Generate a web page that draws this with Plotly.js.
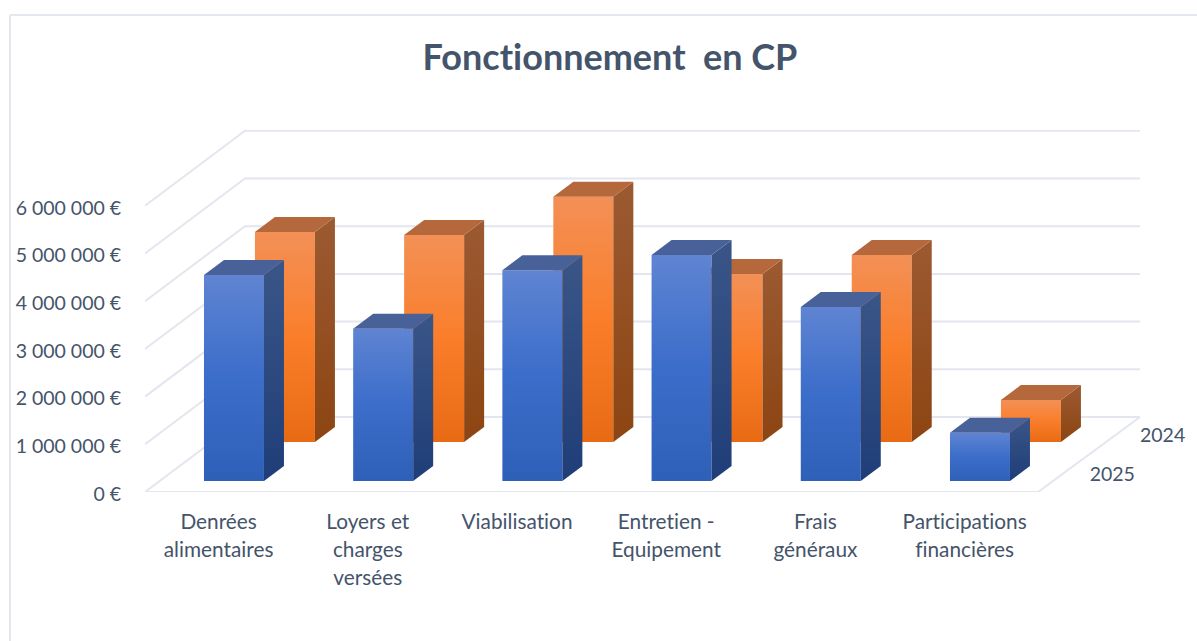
<!DOCTYPE html>
<html><head><meta charset="utf-8">
<script src="https://cdn.plot.ly/plotly-3.0.1.min.js"></script>
<style>html,body{margin:0;padding:0;background:#fff}#c{width:1197px;height:641px}
svg text{font-variant-ligatures:none;font-feature-settings:"liga" 0}</style>
</head><body><div id="c"></div>
<script>
const categories = ["Denrées<br>alimentaires","Loyers et<br>charges<br>versées","Viabilisation","Entretien -<br>Equipement","Frais<br>généraux","Participations<br>financières"];
const values2025 = [4320000,3190000,4420000,4740000,3650000,1010000];
const values2024 = [4400000,4340000,5140000,3520000,3920000,880000];
const yTicks = [0,1000000,2000000,3000000,4000000,5000000,6000000];
const yTickLabels = ["0 €","1 000 000 €","2 000 000 €","3 000 000 €","4 000 000 €","5 000 000 €","6 000 000 €"];
const depthLabels = ["2025","2024"];

// geometry of the oblique projection, in pixels
const W=1197,H=641,L=145,R=1140,T=130,B=492;
const catPx=149.2, valPx=47.7/1e6;
const depthX=100, depthY=75, barDepthX=98;
const barW=60, barDX=20, barDY=15;
const dBlue=11/75, dOrange=50/75;
const ux=p=>p/catPx, uy=p=>p/valPx;
const xMax=ux(R-L), yMax=uy(B-T);
const text='#44546a', grid='#e4e6ef';
const font='Lato, "Open Sans", sans-serif';
const xFont=20.8;

function lineTrace(xs,ys){return {type:'scatter',mode:'lines',x:xs,y:ys,line:{color:grid,width:2},cliponaxis:false,hoverinfo:'skip',showlegend:false,xaxis:'x',yaxis:'y'};}
const traces=[];
yTicks.forEach(v=>{
  traces.push(lineTrace([0,ux(depthX),xMax],[v,v+uy(depthY),v+uy(depthY)]));
});
traces.push(lineTrace([0,xMax-ux(102),xMax],[0,0,uy(depthY)]));
const labelDepth=[dBlue,dOrange];
traces.push({type:'scatter',mode:'text',x:depthLabels.map((_,i)=>Math.min(xMax,xMax-ux(102)+ux(depthX*labelDepth[i]+37))),
  y:depthLabels.map((_,i)=>uy(depthY*labelDepth[i]+5)),text:depthLabels,textposition:'middle right',
  textfont:{family:font,size:19.5,color:text},cliponaxis:false,hoverinfo:'skip',showlegend:false,xaxis:'x',yaxis:'y'});

function series(vals,d,ax,c){
  const xc=vals.map((_,i)=>i+0.5+ux(barDepthX*d));
  const base=uy(depthY*d);
  traces.push({type:'bar',x:xc,y:vals,base:vals.map(()=>base),width:ux(barW),marker:{color:c.front[1],line:{width:0}},
    cliponaxis:false,hoverinfo:'skip',showlegend:false,xaxis:'x'+ax,yaxis:'y'+ax});
  vals.forEach((v,i)=>{
    const x1=xc[i]+ux(barW/2), xb=x1+ux(barDX), yb=uy(barDY), top=base+v;
    traces.push({type:'scatter',mode:'none',fill:'toself',x:[x1,xb,xb,x1,x1],y:[base,base+yb,top+yb,top,base],
      fillcolor:c.side[0],fillgradient:{type:'vertical',colorscale:[[0,c.side[0]],[1,c.side[1]]]},
      cliponaxis:false,hoverinfo:'skip',showlegend:false,xaxis:'x'+ax,yaxis:'y'+ax});
    const x0=xc[i]-ux(barW/2);
    traces.push({type:'scatter',mode:'none',fill:'toself',x:[x0,x1,xb,x0+ux(barDX),x0],y:[top,top,top+yb,top+yb,top],
      fillcolor:c.top,cliponaxis:false,hoverinfo:'skip',showlegend:false,xaxis:'x'+ax,yaxis:'y'+ax});
  });
}
const orange={front:['#f39056','#fa7e2a','#e86a14'],side:['#8c4512','#9c5a32'],top:'#b5683c'};
const blue={front:['#5f84d2','#3b6dca','#2f60b8'],side:['#1f3d78','#3a5688'],top:'#486299'};
series(values2024,dOrange,'2',orange);
series(values2025,dBlue,'3',blue);

const hidden=(o)=>Object.assign({range:[0,xMax],visible:false,fixedrange:true},o);
const px=v=>(v-L)/(R-L), py=v=>(B-v)/(B-T);
const layout={
  width:W,height:H,margin:{l:L,r:W-R,t:T,b:H-B},paper_bgcolor:'#fff',plot_bgcolor:'rgba(0,0,0,0)',
  barmode:'overlay',showlegend:false,hovermode:false,
  title:{text:'Fonctionnement  en CP',x:610/W,xref:'container',xanchor:'center',y:1-57/H,yref:'container',yanchor:'middle',
    font:{family:font,size:36,color:text,weight:700}},
  xaxis:{range:[0,xMax],tickmode:'array',tickvals:categories.map((_,i)=>i+0.5-ux(1)),ticktext:categories,tickangle:0,
    ticks:'outside',ticklen:11,tickcolor:'rgba(0,0,0,0)',showgrid:false,zeroline:false,showline:false,fixedrange:true,
    tickfont:{family:font,size:xFont,color:text}},
  yaxis:{range:[0,yMax],tickmode:'array',tickvals:yTicks,ticktext:yTickLabels,
    ticks:'outside',ticklen:19,tickcolor:'rgba(0,0,0,0)',showgrid:false,zeroline:false,showline:false,fixedrange:true,
    tickfont:{family:font,size:19.5,color:text}},
  xaxis2:hidden({overlaying:'x',anchor:'y2'}),
  yaxis2:{range:[0,yMax],visible:false,fixedrange:true,overlaying:'y',anchor:'x2'},
  xaxis3:hidden({overlaying:'x',anchor:'y3'}),
  yaxis3:{range:[0,yMax],visible:false,fixedrange:true,overlaying:'y',anchor:'x3'},
  shapes:[
    {type:'line',xref:'paper',yref:'paper',x0:px(10),x1:px(10),y0:py(15),y1:py(H),line:{color:'#e3e7ee',width:2}},
    {type:'line',xref:'paper',yref:'paper',x0:px(10),x1:px(W),y0:py(15),y1:py(15),line:{color:'#e3e7ee',width:2}}
  ]
};
const gd=document.getElementById('c');
Plotly.newPlot(gd,traces,layout,{displayModeBar:false,staticPlot:true}).then(()=>{
  const svg=gd.querySelector('.main-svg');
  const NS='http://www.w3.org/2000/svg';
  const defs=svg.querySelector('defs')||svg.insertBefore(document.createElementNS(NS,'defs'),svg.firstChild);
  function grad(id,st){
    const g=document.createElementNS(NS,'linearGradient');
    g.setAttribute('id',id);g.setAttribute('x1','0');g.setAttribute('y1','0');g.setAttribute('x2','0');g.setAttribute('y2','1');
    st.forEach((c,i)=>{const s=document.createElementNS(NS,'stop');s.setAttribute('offset',i/(st.length-1));s.setAttribute('stop-color',c);g.appendChild(s);});
    defs.appendChild(g);
  }
  grad('gradOrange',orange.front);grad('gradBlue',blue.front);
  const bars=gd.querySelectorAll('.barlayer .trace.bars');
  const paint=(tr,id)=>tr.querySelectorAll('.point path').forEach(p=>{p.style.fill='url(#'+id+')';});
  const ordered=[];
  bars.forEach(b=>ordered.push(b));
  if(ordered[0])paint(ordered[0],'gradOrange');
  if(ordered[1])paint(ordered[1],'gradBlue');
  gd.querySelectorAll('.xtick text tspan.line').forEach(t=>{
    const dy=t.getAttribute('dy');
    if(dy&&parseFloat(dy)>0){t.setAttribute('dy',(parseFloat(dy)/1.3*28/xFont)+'em');}
  });
  gd.querySelectorAll('.yaxislayer-above').forEach(g=>g.setAttribute('transform','translate(0,2)'));
});
</script></body></html>
